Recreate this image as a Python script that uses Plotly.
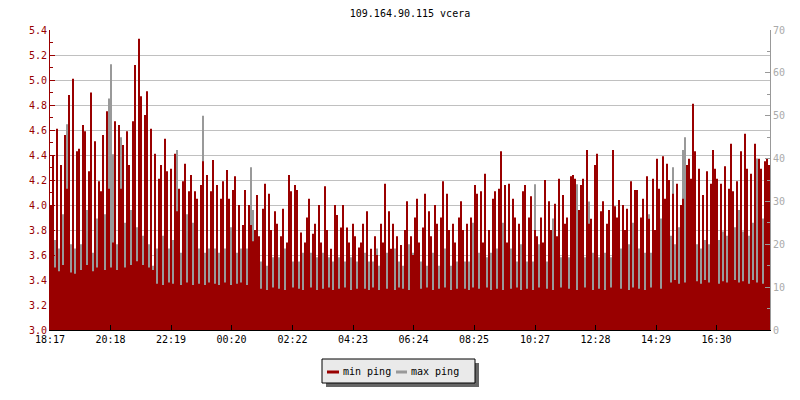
import plotly.graph_objects as go

title_text = "109.164.90.115 vcera"
tick_labels = ["18:17", "20:18", "22:19", "00:20", "02:22", "04:23",
               "06:24", "08:25", "10:27", "12:28", "14:29", "16:30"]
tick_minutes = [0, 121, 242, 363, 485, 606, 727, 848, 970, 1091, 1212, 1333]
step_min = 4  # minutes per sample

# min ping (left axis, ms), one value per sample
min_ping = [
    # 18:17 - 19:40
    4.00, 4.40, 3.50, 4.61, 3.47, 4.32, 3.52, 4.56, 4.13, 4.88, 3.46, 5.01, 3.45, 4.43, 4.45, 3.48,
    4.64, 4.59, 3.52, 4.27, 4.90, 3.47, 4.51, 3.50, 4.19, 4.11, 4.56, 3.48, 4.75, 4.13, 3.50, 3.70,
    4.67, 3.48, 4.64, 4.13, 4.48, 3.50, 4.59, 4.32, 3.52, 4.67, 5.12, 3.55, 5.33, 4.87, 3.52, 4.72,
    4.91, 3.50, 4.61, 3.48,
    # 19:40 - 23:05
    4.41, 3.37, 4.21, 4.32, 3.36, 4.53, 4.27, 3.38, 4.29, 3.37, 4.41, 3.95, 4.13, 3.36, 4.19, 4.33,
    3.38, 4.11, 4.24, 3.36, 4.11, 4.05, 3.37, 4.16, 4.35, 3.36, 4.24, 3.38, 4.11, 4.36, 3.37, 4.16,
    3.36, 4.05, 4.19, 3.38, 4.28, 4.05, 3.36, 4.12, 4.23, 3.37, 4.00, 3.38, 3.84, 4.12, 3.36, 4.00,
    3.84, 3.71, 3.80,
    # 23:05 - 02:33
    4.08, 3.75, 3.33, 3.97, 4.17, 3.32, 4.09, 3.80, 3.34, 3.95, 3.85, 3.33, 3.75, 3.97, 3.32, 3.70,
    4.24, 4.11, 3.34, 4.16, 4.12, 3.33, 3.78, 3.32, 3.70, 3.90, 4.05, 3.34, 3.77, 3.85, 3.32, 4.00,
    3.70, 3.33, 4.15, 3.80, 3.34, 3.65, 3.32, 4.00, 3.92, 3.33, 3.82, 4.00, 3.34, 3.82, 3.70, 3.32,
    3.85, 3.75, 3.33, 3.66,
    # 02:33 - 05:57
    3.70, 3.85, 3.33, 3.95, 3.32, 3.65, 3.34, 3.75, 3.60, 3.32, 3.85, 3.70, 4.17, 3.33, 3.95, 3.65,
    3.85, 3.32, 3.75, 3.34, 3.68, 3.33, 3.80, 4.03, 3.32, 3.75, 3.60, 3.90, 4.05, 3.70, 3.33, 3.82,
    4.09, 3.34, 3.95, 3.75, 3.32, 4.00, 3.85, 3.33, 3.90, 4.19, 3.34, 4.09, 3.80, 3.32, 3.85, 3.70,
    3.33, 3.90, 4.03,
    # 05:57 - 09:25
    3.80, 3.33, 3.85, 3.32, 3.90, 3.34, 4.16, 4.09, 3.33, 4.11, 3.70, 4.25, 3.34, 3.80, 3.32, 4.05,
    4.11, 3.33, 4.13, 4.43, 3.32, 4.16, 3.70, 4.17, 3.33, 4.05, 3.90, 3.34, 3.85, 3.32, 4.11, 4.16,
    3.33, 3.90, 4.07, 3.32, 3.80, 3.75, 3.34, 3.90, 3.70, 4.20, 3.33, 4.03, 3.80, 3.32, 4.01, 3.75,
    4.21, 3.34, 4.08, 3.85,
    # 09:25 - 12:49
    3.90, 3.33, 4.23, 4.24, 4.21, 3.32, 3.96, 4.16, 4.21, 3.34, 4.44, 3.85, 3.89, 3.32, 4.32, 4.41,
    3.33, 3.95, 4.03, 3.32, 3.85, 3.96, 3.34, 4.44, 3.99, 3.90, 4.04, 3.33, 4.00, 3.80, 3.97, 3.32,
    4.19, 3.34, 4.12, 4.12, 3.33, 3.90, 4.05, 3.32, 4.23, 3.89, 3.34, 4.21, 3.80, 4.37, 4.13, 3.33,
    4.39, 4.05, 4.33,
    # 12:49 - 16:17
    4.20, 3.38, 4.09, 3.40, 4.17, 3.37, 4.00, 4.05, 3.38, 4.32, 4.37, 4.21, 4.81, 4.43, 3.39, 4.29,
    3.37, 4.08, 3.40, 4.27, 3.38, 4.17, 4.44, 4.29, 4.21, 3.37, 4.17, 3.39, 4.31, 3.38, 4.13, 4.49,
    4.11, 3.40, 4.19, 3.38, 4.43, 3.39, 4.57, 4.29, 3.37, 4.25, 3.40, 4.49, 3.38, 4.37, 4.29, 3.37,
    4.35, 4.37, 4.32,
]

# max ping (right axis, ms), one value per sample
max_ping = [
    # 18:17 - 19:40
    18, 20, 21, 17, 19, 25, 27, 35, 48, 22, 20, 16, 19, 18, 15, 20, 17, 22, 28, 30,
    21, 18, 24, 26, 22, 19, 20, 27, 23, 54, 62, 41, 24, 20, 18, 45, 22, 25, 27, 20,
    28, 21, 26, 24, 28, 27, 22, 33, 24, 20, 17, 15,
    # 19:40 - 23:05
    20, 19, 21, 18, 22, 17, 20, 19, 18, 21, 16, 42, 19, 18, 20, 17, 27, 25, 20, 25,
    17, 16, 19, 17, 50, 18, 29, 19, 20, 16, 19, 22, 18, 20, 16, 19, 17, 16, 24, 18,
    19, 18, 17, 19, 18, 16, 19, 15, 38, 28, 18,
    # 23:05 - 02:33
    15, 17, 16, 18, 16, 15, 19, 15, 17, 14, 16, 17, 15, 17, 19, 15, 14, 17, 16, 15,
    18, 16, 17, 18, 15, 19, 16, 18, 21, 15, 17, 15, 16, 18, 18, 15, 17, 14, 16, 19,
    15, 17, 15, 19, 16, 18, 15, 17, 15, 18, 16, 15,
    # 02:33 - 05:57
    16, 14, 18, 15, 16, 17, 16, 14, 19, 15, 17, 13, 16, 18, 14, 17, 15, 19, 14, 16,
    18, 15, 17, 14, 20, 16, 18, 15, 17, 19, 16, 16, 21, 15, 17, 14, 18, 16, 20, 15,
    17, 14, 19, 16, 18, 15, 22, 17, 16, 18, 15,
    # 05:57 - 09:25
    17, 16, 19, 16, 18, 25, 17, 16, 18, 15, 17, 20, 17, 15, 18, 17, 15, 19, 16, 18,
    25, 15, 17, 15, 19, 16, 18, 16, 17, 20, 16, 18, 16, 19, 17, 16, 34, 18, 20, 15,
    17, 22, 16, 19, 18, 26, 24, 17, 19, 17, 20, 18,
    # 09:25 - 12:49
    18, 17, 20, 15, 19, 34, 17, 15, 18, 17, 19, 30, 17, 18, 18, 20, 17, 14, 18, 18,
    15, 19, 17, 18, 20, 17, 15, 19, 16, 18, 17, 20, 16, 25, 18, 15, 19, 17, 22, 18,
    18, 27, 18, 19, 21, 16, 18, 26, 24, 20, 22,
    # 12:49 - 16:17
    18, 22, 38, 20, 16, 24, 19, 42, 45, 21, 35, 18, 23, 17, 20, 25, 19, 28, 21, 22,
    20, 18, 24, 17, 26, 21, 19, 23, 18, 22, 25, 20, 17, 24, 21, 28, 19, 23, 20, 26,
    22, 18, 25, 21, 40, 22, 19, 26, 24, 21, 23,
]

RED = "#990000"
GRAY = "#999999"
FONT = "DejaVu Sans Mono"


def step_series(values):
    # each sample covers [t, t + step); close the last step at its end time
    xs = [step_min * i for i in range(len(values))] + [step_min * len(values)]
    ys = list(values) + [values[-1]]
    return xs, ys


x_max, y_max = step_series(max_ping)
x_min, y_min = step_series(min_ping)

fig = go.Figure()
fig.add_trace(go.Scatter(x=x_max, y=y_max, yaxis="y", mode="lines", name="max ping",
                         line=dict(color=GRAY, width=0, shape="hv", simplify=False), fill="tozeroy",
                         fillcolor=GRAY, showlegend=False, hoverinfo="skip"))
fig.add_trace(go.Scatter(x=x_min, y=y_min, yaxis="y2", mode="lines", name="min ping",
                         line=dict(color=RED, width=0, shape="hv", simplify=False), fill="tozeroy",
                         fillcolor=RED, showlegend=False, hoverinfo="skip"))


def px_x(p):
    return (p - 50) / 720.0


def px_y(p):
    return (330 - p) / 300.0


shapes = [
    dict(type="rect", xref="paper", yref="paper", x0=px_x(326), x1=px_x(479), y0=px_y(387), y1=px_y(363),
         fillcolor="#666666", line=dict(width=0), layer="above"),
    dict(type="rect", xref="paper", yref="paper", x0=px_x(322), x1=px_x(475), y0=px_y(383), y1=px_y(359),
         fillcolor="#eaeaea", line=dict(color="black", width=1), layer="above"),
    dict(type="line", xref="paper", yref="paper", x0=px_x(327), x1=px_x(339), y0=px_y(372), y1=px_y(372),
         line=dict(color=RED, width=3), layer="above"),
    dict(type="line", xref="paper", yref="paper", x0=px_x(396), x1=px_x(407), y0=px_y(372), y1=px_y(372),
         line=dict(color=GRAY, width=3), layer="above"),
]
annotations = [
    dict(text="min ping", xref="paper", yref="paper", x=px_x(341), y=px_y(371), xanchor="left",
         yanchor="middle", showarrow=False, font=dict(family=FONT, size=10, color="black")),
    dict(text="max ping", xref="paper", yref="paper", x=px_x(409), y=px_y(371), xanchor="left",
         yanchor="middle", showarrow=False, font=dict(family=FONT, size=10, color="black")),
]

fig.update_layout(
    width=800, height=400,
    margin=dict(l=50, r=30, t=30, b=70),
    paper_bgcolor="white", plot_bgcolor="white",
    showlegend=False, hovermode=False,
    font=dict(family=FONT, size=10, color="black"),
    title=dict(text=title_text, x=0.5, xref="paper", xanchor="center", y=1 - 13 / 400, yanchor="middle",
               font=dict(family=FONT, size=10, color="black")),
    xaxis=dict(range=[0, 1440], tickvals=tick_minutes, ticktext=tick_labels, ticks="inside", ticklen=5,
               tickcolor="black", showline=True, linecolor="black", linewidth=1, showgrid=False,
               zeroline=False, tickfont=dict(color="black", size=10, family=FONT), fixedrange=True),
    yaxis=dict(side="right", range=[0, 70], tick0=0, dtick=10, ticks="inside", ticklen=5, tickcolor=GRAY,
               showline=True, linecolor=GRAY, showgrid=False, zeroline=False,
               tickfont=dict(color="#aaaaaa", size=10, family=FONT),
               minor=dict(dtick=5, ticks="inside", ticklen=3, tickcolor=GRAY, showgrid=False)),
    yaxis2=dict(side="left", overlaying="y", range=[3.0, 5.4], tick0=3.0, dtick=0.2, tickformat=".1f",
                ticks="inside", ticklen=5, tickcolor=RED, showline=True, linecolor=RED,
                showgrid=True, gridcolor="#c0c0c0", gridwidth=1, zeroline=False,
                tickfont=dict(color=RED, size=10, family=FONT),
                minor=dict(dtick=0.1, ticks="inside", ticklen=3, tickcolor=RED, showgrid=False)),
    shapes=shapes,
    annotations=annotations,
)

fig.write_html("out.html", config={"displayModeBar": False, "staticPlot": True},
               post_script="document.body.style.margin='0';document.body.style.overflow='hidden';")
